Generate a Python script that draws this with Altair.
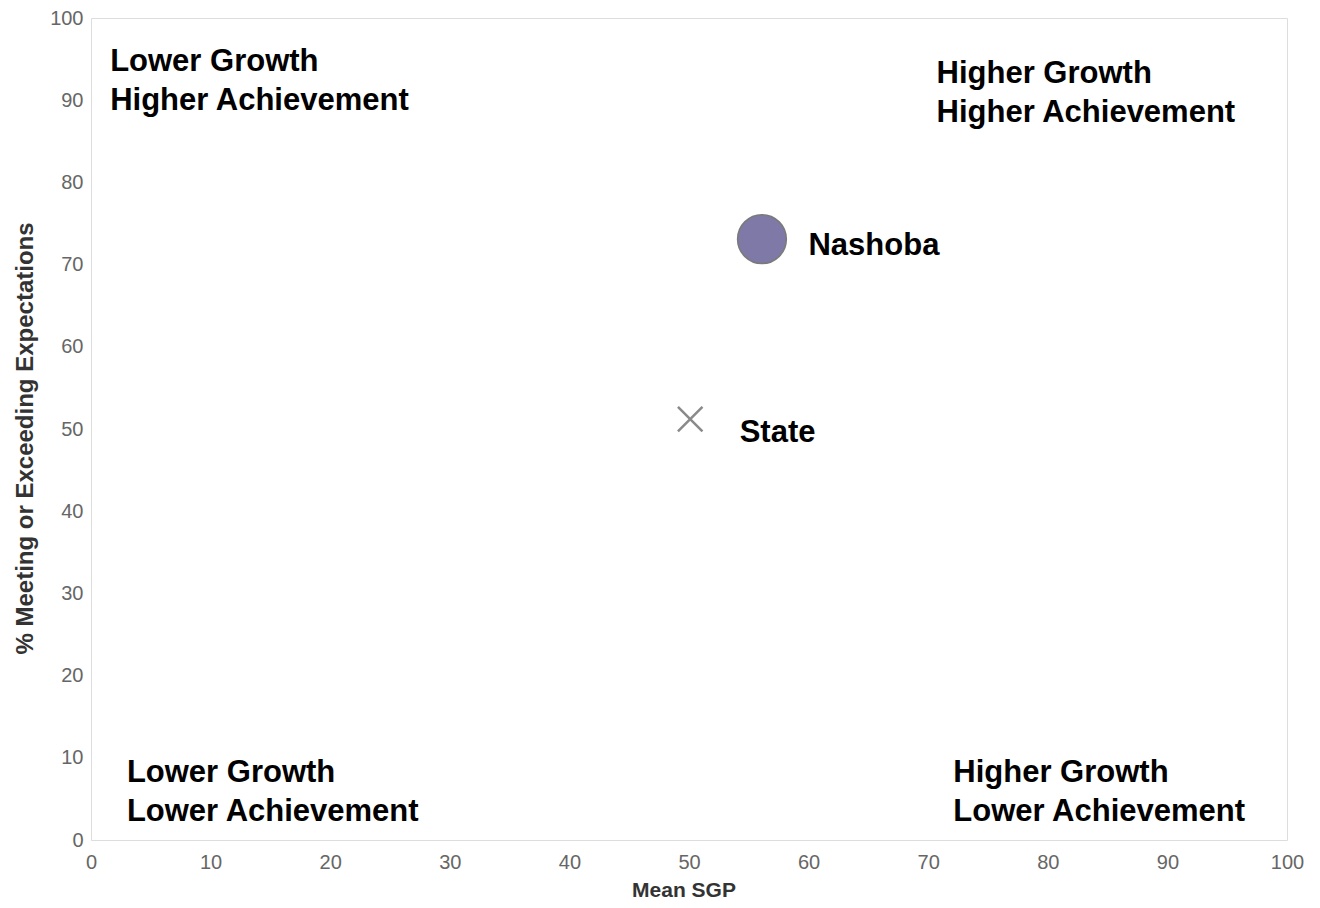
import altair as alt
import pandas as pd

# ---- data ----
names = ["Nashoba", "State"]
mean_sgp = [56.1, 50.1]
pct_meeting = [73.1, 51.2]

quad_labels = [
    "Lower Growth\nHigher Achievement",
    "Higher Growth\nHigher Achievement",
    "Lower Growth\nLower Achievement",
    "Higher Growth\nLower Achievement",
]
quad_x = [1.6, 70.7, 3.0, 72.1]
quad_y = [93.5, 92.1, 7.0, 7.0]

x_ticks = list(range(0, 101, 10))
y_ticks = list(range(0, 101, 10))

pts = pd.DataFrame({"name": names, "sgp": mean_sgp, "pct": pct_meeting})
quads = pd.DataFrame({"label": quad_labels, "x": quad_x, "y": quad_y})

FONT = "Liberation Sans"

xscale = alt.Scale(domain=[0, 100], nice=False, zero=False)
yscale = alt.Scale(domain=[0, 100], nice=False, zero=False)

xaxis = alt.Axis(
    values=x_ticks, grid=False, domain=False, ticks=False,
    labelFontSize=20, labelColor="#666666", labelFont=FONT, labelPadding=12,
    labelFlush=False, labelOverlap=False,
    title="Mean SGP", titleFont=FONT, titleFontSize=21, titleFontWeight="bold",
    titleColor="#333333", titleX=592.5, titleY=50, titleBaseline="middle",
    titleAlign="center",
)
yaxis = alt.Axis(
    values=y_ticks, grid=False, domain=False, ticks=False,
    labelFontSize=20, labelColor="#666666", labelFont=FONT, labelPadding=8,
    labelFlush=False, labelOverlap=False,
    title="% Meeting or Exceeding Expectations", titleFont=FONT,
    titleFontSize=24, titleFontWeight="bold", titleColor="#333333",
    titleX=-66, titleY=420, titleAngle=270, titleBaseline="middle",
    titleAlign="center",
)

base = alt.Chart(pts)

nashoba = base.transform_filter(alt.datum.name == "Nashoba").mark_circle(
    size=2376, color="#7e79a6", opacity=1, stroke="#7a7a7a", strokeWidth=1.5
).encode(
    x=alt.X("sgp:Q", scale=xscale, axis=xaxis),
    y=alt.Y("pct:Q", scale=yscale, axis=yaxis),
)

state = base.transform_filter(alt.datum.name == "State").mark_point(
    shape="M-1,-1L1,1M-1,1L1,-1", size=600, filled=False,
    color="#8a8a8a", strokeWidth=2.5, opacity=1
).encode(x="sgp:Q", y="pct:Q")

nashoba_lbl = base.transform_filter(alt.datum.name == "Nashoba").mark_text(
    align="left", baseline="middle", dx=46.5, dy=6.5, font=FONT,
    fontSize=31, fontWeight="bold", color="#000000"
).encode(x="sgp:Q", y="pct:Q", text="name:N")

state_lbl = base.transform_filter(alt.datum.name == "State").mark_text(
    align="left", baseline="middle", dx=49.5, dy=13.5, font=FONT,
    fontSize=31, fontWeight="bold", color="#000000"
).encode(x="sgp:Q", y="pct:Q", text="name:N")

quad = alt.Chart(quads).mark_text(
    align="left", baseline="alphabetic", lineBreak="\n", lineHeight=39,
    font=FONT, fontSize=31, fontWeight="bold", color="#000000"
).encode(x="x:Q", y="y:Q", text="label:N")

chart = alt.layer(quad, nashoba, state, nashoba_lbl, state_lbl).properties(
    width=1196, height=822,
    autosize=alt.AutoSizeParams(type="none"),
    padding={"left": 83, "top": 10, "right": 25, "bottom": 60},
).configure_view(
    stroke="#cfcfcf", strokeWidth=2
).configure(background="white")

chart.save("out.html", embed_options={"renderer": "svg", "actions": False})
